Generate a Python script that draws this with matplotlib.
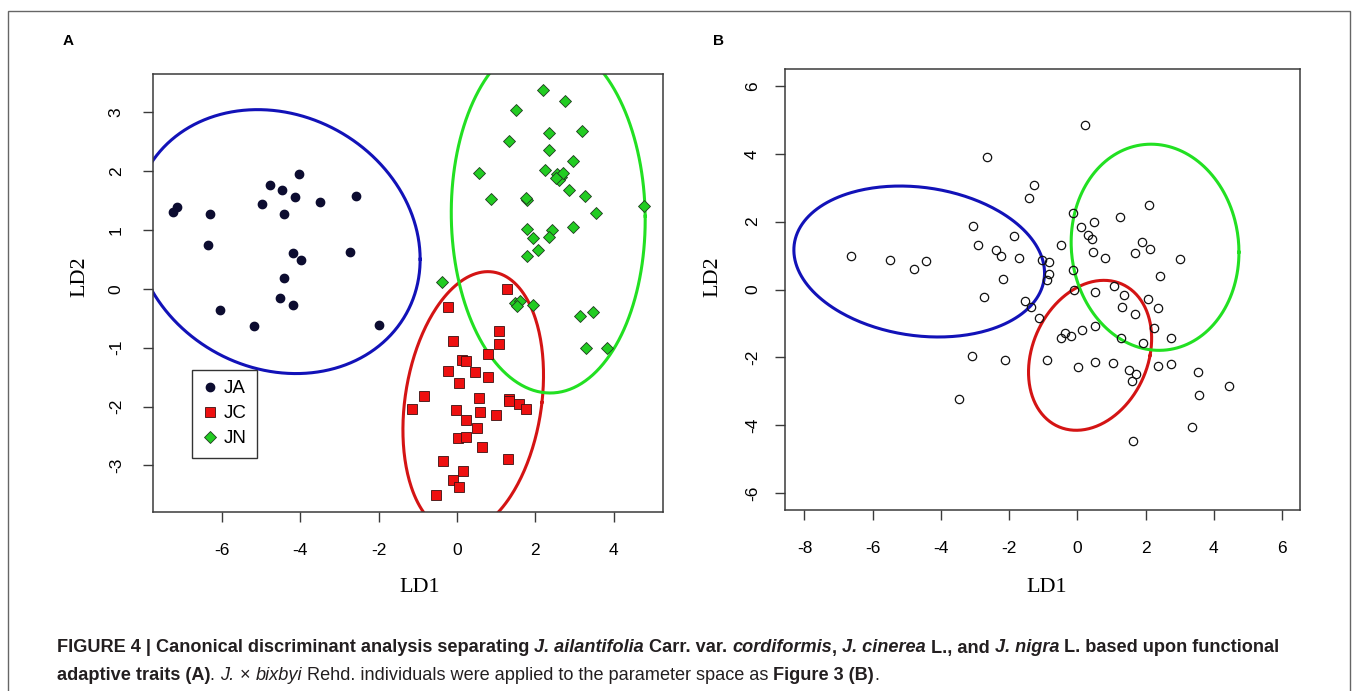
import numpy as np
import matplotlib
matplotlib.use('Agg')
import matplotlib.pyplot as plt
from matplotlib import font_manager
from matplotlib.lines import Line2D
from matplotlib.patches import Rectangle

# ---------------- data ----------------
# panel A : JA / JC / JN training groups
ja_x = [-7.24, -7.15, -6.30, -6.35, -4.77, -4.46, -4.04, -4.13, -4.98, -4.41, -3.49,
        -2.58, -4.19, -3.97, -4.41, -2.72, -4.52, -4.19, -6.05, -5.18, -2.00]
ja_y = [1.31, 1.38, 1.27, 0.75, 1.76, 1.68, 1.94, 1.55, 1.44, 1.27, 1.47,
        1.57, 0.61, 0.49, 0.19, 0.63, -0.15, -0.28, -0.36, -0.64, -0.62]

jc_x = [1.27, -0.23, 1.08, 1.08, -0.11, 0.78, 0.13, 0.23, -0.23, 0.45, 0.80, 0.06,
        -0.85, -1.15, 0.57, 1.33, 1.34, 1.59, 1.77, -0.02, 0.59, 0.99, 0.24, 0.51,
        0.02, 0.24, 0.63, 1.31, -0.36, 0.15, -0.10, 0.06, -0.54]
jc_y = [0.00, -0.31, -0.71, -0.93, -0.89, -1.11, -1.21, -1.22, -1.39, -1.42, -1.49, -1.60,
        -1.82, -2.05, -1.86, -1.87, -1.90, -1.96, -2.04, -2.06, -2.10, -2.15, -2.23, -2.37,
        -2.54, -2.51, -2.68, -2.89, -2.93, -3.09, -3.24, -3.36, -3.50]

jn_x = [2.20, 2.77, 1.50, 2.36, 3.18, 1.32, 2.36, 2.97, 2.26, 2.55, 2.65, 2.60, 2.70,
        2.52, 0.56, 2.86, 3.28, 4.78, 0.86, 1.80, 1.76, 3.55, 1.80, 1.93, 2.42, 2.36,
        2.95, 2.06, 1.80, -0.38, 1.48, 1.62, 1.52, 1.93, 3.15, 3.47, 3.29, 3.83]
jn_y = [3.37, 3.18, 3.03, 2.64, 2.68, 2.51, 2.35, 2.17, 2.02, 1.95, 1.90, 1.85, 1.97,
        1.88, 1.96, 1.68, 1.58, 1.41, 1.53, 1.50, 1.54, 1.28, 1.02, 0.86, 1.00, 0.88,
        1.04, 0.66, 0.55, 0.12, -0.25, -0.20, -0.30, -0.28, -0.46, -0.39, -1.01, -1.01]

# panel B : J. x bixbyi individuals
bx_x = [-6.63, -5.49, -4.80, -4.44, -2.66, -1.26, -1.43, -3.05, -1.87, -2.90, -2.38, -2.25,
        -1.72, -2.19, -2.73, -1.54, -1.36, -1.11, -3.08, -2.11, 0.22, -1.03, -0.83, -0.82,
        -0.89, -0.14, 0.11, 0.50, 0.32, 0.42, 1.26, 2.09, -0.47, 0.46, 0.82, 1.90, 1.69,
        2.12, 3.01, 2.43, -0.14, -0.11, 0.53, 1.08, 1.36, 2.08, 1.32, 1.69, 2.37, 0.53,
        0.15, -0.35, -0.47, -0.18, 1.29, 1.93, 2.26, 2.75, -0.90, 0.01, 0.52, 1.06, 1.53,
        1.71, 1.59, 2.38, 2.74, 3.54, 3.57, 4.45, -3.47, 3.36, 1.63]
bx_y = [1.00, 0.86, 0.61, 0.83, 3.91, 3.09, 2.70, 1.87, 1.58, 1.30, 1.15, 1.00,
        0.93, 0.32, -0.22, -0.35, -0.51, -0.83, -1.97, -2.07, 4.86, 0.86, 0.80, 0.47,
        0.27, 2.26, 1.83, 1.98, 1.60, 1.50, 2.13, 2.48, 1.30, 1.11, 0.93, 1.40, 1.08,
        1.19, 0.89, 0.39, 0.57, 0.00, -0.07, 0.11, -0.15, -0.29, -0.51, -0.72, -0.54, -1.07,
        -1.18, -1.28, -1.43, -1.37, -1.43, -1.59, -1.13, -1.44, -2.09, -2.29, -2.15, -2.18, -2.36,
        -2.50, -2.71, -2.25, -2.21, -2.43, -3.11, -2.83, -3.22, -4.04, -4.47]

# group ellipses: centre x, centre y, half width, half height, x shear, y shear
ell_A = {'JA': [-4.60, 0.80, 3.66, 2.22, 0.0, -0.30],
         'JC': [0.415, -1.93, 1.755, 2.22, 0.375, 0.0],
         'JN': [2.33, 1.23, 2.475, 3.0, -0.05, 0.0]}
ell_B = {'JA': [-4.635, 0.825, 3.675, 2.199, 0.0, -0.339],
         'JC': [0.375, -1.94, 1.759, 2.21, 0.405, 0.0],
         'JN': [2.28, 1.245, 2.46, 3.035, 0.0, -0.145]}

groups = ['JA', 'JC', 'JN']
ell_col = {'JA': '#1212b8', 'JC': '#d41414', 'JN': '#22e022'}

xticksA = [-6, -4, -2, 0, 2, 4]
yticksA = [-3, -2, -1, 0, 1, 2, 3]
xticksB = [-8, -6, -4, -2, 0, 2, 4, 6]
yticksB = [-6, -4, -2, 0, 2, 4, 6]

# ---------------- fonts ----------------
have = set(f.name for f in font_manager.fontManager.ttflist)
narrow = 'Liberation Sans Narrow' if 'Liberation Sans Narrow' in have else 'Liberation Sans'
sans = 'Liberation Sans'
serif = 'Liberation Serif'

W, H = 1358, 691
fig = plt.figure(figsize=(W / 100, H / 100), dpi=100)


def box(l, t, r, b):
    return [l / W, 1 - b / H, (r - l) / W, (b - t) / H]


def ell_xy(p):
    t = np.linspace(0, 2 * np.pi, 300)
    cx, cy, a, b, sx, sy = p
    return cx + a * np.cos(t) + sx * np.sin(t), cy + b * np.sin(t) + sy * np.cos(t)


def style(ax, xt, yt, ypad):
    for s in ax.spines.values():
        s.set_color('#3a3a3a')
        s.set_linewidth(1.1)
    ax.set_xticks(xt)
    ax.set_yticks(yt)
    ax.set_xticklabels([str(v) for v in xt], family=sans, fontsize=12.5)
    ax.set_yticklabels([str(v) for v in yt], family=sans, fontsize=12.5,
                       rotation=90, va='center')
    ax.tick_params(axis='both', direction='out', length=7.5, width=1.0, color='#3a3a3a')
    ax.tick_params(axis='x', pad=14.5)
    ax.tick_params(axis='y', pad=ypad)


# ---------------- panel A ----------------
axA = fig.add_axes(box(153, 74, 663, 512))
for g in groups:
    ex, ey = ell_xy(ell_A[g])
    axA.plot(ex, ey, color=ell_col[g], lw=2.2, zorder=2)
axA.plot(ja_x, ja_y, 'o', ms=6, mfc='#0c0c30', mec='#0c0c30', zorder=3)
axA.plot(jc_x, jc_y, 's', ms=7, mfc='#ee1010', mec='#3a1010', mew=0.6, zorder=3)
axA.plot(jn_x, jn_y, 'D', ms=6.3, mfc='#22cc22', mec='#1e3a1e', mew=0.6, zorder=3)
axA.set_xlim(-7.76, 5.26)
axA.set_ylim(-3.79, 3.645)
style(axA, xticksA, yticksA, 13.5)
axA.set_xlabel('LD1', family=serif, fontsize=16, va='center')
axA.xaxis.set_label_coords((420 - 153) / 510, (512 - 588) / 438)
axA.set_ylabel('LD2', family=serif, fontsize=16, va='center')
axA.yaxis.set_label_coords((80 - 153) / 510, (512 - 277) / 438)

handles = [Line2D([], [], ls='none', marker='o', ms=6, mfc='#0c0c30', mec='#0c0c30'),
           Line2D([], [], ls='none', marker='s', ms=7, mfc='#ee1010', mec='#3a1010', mew=0.6),
           Line2D([], [], ls='none', marker='D', ms=6.3, mfc='#22cc22', mec='#1e3a1e', mew=0.6)]
leg = axA.legend(handles, groups, loc='upper left',
                 bbox_to_anchor=((192 - 153) / 510, (512 - 370) / 438),
                 borderaxespad=0, fancybox=False, framealpha=1, edgecolor='#333333',
                 handlelength=0.8, handletextpad=0.35, labelspacing=0.42,
                 borderpad=0.55, prop={'family': sans, 'size': 13.5})
leg.get_frame().set_linewidth(1.0)

# ---------------- panel B ----------------
axB = fig.add_axes(box(785, 69, 1300, 510))
for g in groups:
    ex, ey = ell_xy(ell_B[g])
    axB.plot(ex, ey, color=ell_col[g], lw=2.2, zorder=2)
axB.plot(bx_x, bx_y, 'o', ms=6, mfc='none', mec='#111111', mew=0.9, zorder=3)
axB.set_xlim(-8.57, 6.53)
axB.set_ylim(-6.5, 6.5)
style(axB, xticksB, yticksB, 10.5)
axB.set_xlabel('LD1', family=serif, fontsize=16, va='center')
axB.xaxis.set_label_coords((1047 - 785) / 515, (510 - 588) / 441)
axB.set_ylabel('LD2', family=serif, fontsize=16, va='center')
axB.yaxis.set_label_coords((713 - 785) / 515, (510 - 277) / 441)

# panel letters
fig.text(68 / W, 1 - 41 / H, 'A', family=sans, weight='bold', fontsize=11,
         ha='center', va='center')
fig.text(718 / W, 1 - 41 / H, 'B', family=sans, weight='bold', fontsize=11,
         ha='center', va='center')

# outer frame
fig.add_artist(Rectangle((8 / W, -0.05), (1350 - 8) / W, 1.05 - 11 / H,
                         transform=fig.transFigure, fill=False,
                         edgecolor='#666666', lw=1.0, clip_on=False))

# ---------------- caption ----------------
line1 = [("FIGURE 4 | Canonical discriminant analysis separating ", 'bold', 'normal'),
         ("J. ailantifolia", 'bold', 'italic'),
         (" Carr. var. ", 'bold', 'normal'),
         ("cordiformis", 'bold', 'italic'),
         (", ", 'bold', 'normal'),
         ("J. cinerea", 'bold', 'italic'),
         (" L., and ", 'bold', 'normal'),
         ("J. nigra", 'bold', 'italic'),
         (" L. based upon functional", 'bold', 'normal')]
line2 = [("adaptive traits (A)", 'bold', 'normal'),
         (". ", 'normal', 'normal'),
         ("J.", 'normal', 'italic'),
         (" \u00d7 ", 'normal', 'normal'),
         ("bixbyi", 'normal', 'italic'),
         (" Rehd. individuals were applied to the parameter space as ", 'normal', 'normal'),
         ("Figure 3 (B)", 'bold', 'normal'),
         (".", 'normal', 'normal')]

rend = fig.canvas.get_renderer()


def piece_width(s, weight, st, size):
    t1 = fig.text(0, 0, 'x' + s + 'x', family=narrow, weight=weight, style=st, fontsize=size)
    t2 = fig.text(0, 0, 'xx', family=narrow, weight=weight, style=st, fontsize=size)
    w = t1.get_window_extent(rend).width - t2.get_window_extent(rend).width
    t1.remove()
    t2.remove()
    return w


def line_width(parts, size):
    return sum(piece_width(s, w, st, size) for s, w, st in parts)


cap_size = 12.0
cap_size *= (1275 - 57) / line_width(line1, cap_size)


def draw_line(parts, y, size):
    x = 57.0
    for s, w, st in parts:
        fig.text(x / W, 1 - y / H, s, family=narrow, weight=w, style=st, fontsize=size,
                 color='#231f20', va='center', ha='left')
        x += piece_width(s, w, st, size)


draw_line(line1, 648, cap_size)
draw_line(line2, 675, cap_size)

fig.savefig('out.png', dpi=100)
